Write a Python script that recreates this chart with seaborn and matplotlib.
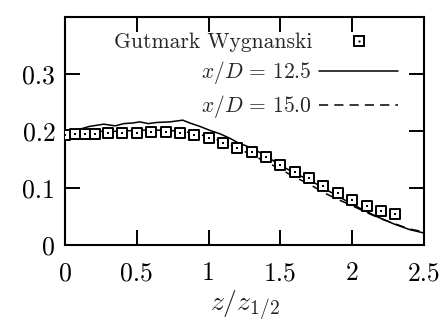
import numpy as np
import pandas as pd
import matplotlib
matplotlib.use("Agg")
import matplotlib.pyplot as plt
import seaborn as sns
from matplotlib.lines import Line2D
from matplotlib.legend_handler import HandlerTuple

# ---- data ----
gw_x = [0.0, 0.07, 0.14, 0.21, 0.3, 0.4, 0.5, 0.6, 0.7, 0.8, 0.9, 1.0, 1.1, 1.2,
        1.3, 1.4, 1.5, 1.6, 1.7, 1.8, 1.9, 2.0, 2.1, 2.2, 2.3]
gw_y = [0.193, 0.195, 0.195, 0.195, 0.196, 0.196, 0.197, 0.198, 0.198, 0.196, 0.193,
        0.187, 0.179, 0.171, 0.164, 0.154, 0.140, 0.128, 0.117, 0.104, 0.092,
        0.079, 0.068, 0.060, 0.054]

s125_x = [0.0, 0.05, 0.1, 0.17, 0.27, 0.35, 0.41, 0.47, 0.52, 0.58, 0.64, 0.73,
          0.82, 0.87, 0.94, 1.01, 1.08, 1.15, 1.2, 1.27, 1.33, 1.4, 1.5, 1.6,
          1.71, 1.82, 1.94, 2.05, 2.17, 2.29, 2.4, 2.5]
s125_y = [0.195, 0.199, 0.203, 0.208, 0.212, 0.209, 0.213, 0.214, 0.216, 0.213,
          0.215, 0.216, 0.219, 0.214, 0.208, 0.201, 0.195, 0.187, 0.180, 0.173,
          0.166, 0.156, 0.140, 0.126, 0.113, 0.097, 0.080, 0.065, 0.050, 0.037,
          0.027, 0.021]

s150_x = [0.0, 0.1, 0.2, 0.3, 0.4, 0.5, 0.6, 0.7, 0.8, 0.9, 1.0, 1.1, 1.2, 1.3,
          1.4, 1.5, 1.6, 1.7, 1.8, 1.9, 2.0, 2.1, 2.2, 2.3, 2.4, 2.5]
s150_y = [0.196, 0.199, 0.200, 0.199, 0.200, 0.201, 0.202, 0.201, 0.200, 0.196,
          0.190, 0.181, 0.170, 0.158, 0.146, 0.133, 0.119, 0.107, 0.092, 0.080,
          0.069, 0.057, 0.046, 0.037, 0.028, 0.023]

labels = ["Gutmark Wygnanski", r"$x/D\,=\,12.5$", r"$x/D\,=\,15.0$"]
xticks = [0, 0.5, 1, 1.5, 2, 2.5]
xticklabels = ["0", "0.5", "1", "1.5", "2", "2.5"]
yticks = [0, 0.1, 0.2, 0.3]
yticklabels = ["0", "0.1", "0.2", "0.3"]
xlabel = r"$z/z_{1/2}$"

# ---- style ----
sns.set_style("ticks")
plt.rcParams["font.family"] = ["cmr10", "DejaVu Serif"]
plt.rcParams["mathtext.fontset"] = "cm"
plt.rcParams["axes.formatter.use_mathtext"] = True
plt.rcParams["axes.unicode_minus"] = False

fig = plt.figure(figsize=(4.47, 3.27), dpi=100)
ax = fig.add_axes([65 / 447, 1 - 245 / 327, (424 - 65) / 447, (245 - 17) / 327])

df_gw = pd.DataFrame({"x": gw_x, "y": gw_y})
df_125 = pd.DataFrame({"x": s125_x, "y": s125_y})
df_150 = pd.DataFrame({"x": s150_x, "y": s150_y})

sns.lineplot(data=df_125, x="x", y="y", ax=ax, color="black", lw=1.1,
             sort=False, estimator=None, legend=False)
sns.lineplot(data=df_150, x="x", y="y", ax=ax, color="black", lw=1.1,
             sort=False, estimator=None, legend=False, dashes=False)
ax.lines[-1].set_dashes((6, 4))
sns.scatterplot(data=df_gw, x="x", y="y", ax=ax, marker="s", s=46,
                facecolor="white", edgecolor="black", linewidth=1.4,
                legend=False, zorder=3)
sns.scatterplot(data=df_gw, x="x", y="y", ax=ax, marker="s", s=2,
                color="black", linewidth=0, legend=False, zorder=4)

ax.set_xlim(0, 2.5)
ax.set_ylim(0, 0.4)
ax.set_xticks(xticks)
ax.set_xticklabels(xticklabels)
ax.set_yticks(yticks)
ax.set_yticklabels(yticklabels)
ax.tick_params(direction="in", length=11, width=1.4, top=True, right=True,
               labelsize=18.5, colors="black")
ax.tick_params(axis="x", pad=12)
ax.tick_params(axis="y", pad=7)
for sp in ax.spines.values():
    sp.set_linewidth(1.5)
    sp.set_color("black")
ax.set_xlabel(xlabel, fontsize=20, labelpad=2)
ax.set_ylabel("")

h_sq = Line2D([], [], ls="none", marker="s", ms=6.8, mfc="white", mec="black", mew=1.4)
h_dot = Line2D([], [], ls="none", marker="s", ms=1.4, mfc="black", mec="black", mew=0)
h1 = Line2D([], [], color="black", lw=1.1)
h2 = Line2D([], [], color="black", lw=1.1, dashes=(6, 4))
leg = ax.legend([(h_sq, h_dot), h1, h2], labels,
                handler_map={tuple: HandlerTuple(ndivide=1)},
                loc="upper right", bbox_to_anchor=((398 - 65) / 359, 0.93),
                frameon=False, markerfirst=False, fontsize=15.5, numpoints=1,
                handlelength=3.65, handletextpad=0.35, labelspacing=0.32,
                borderpad=0, borderaxespad=0)

fig.savefig("out.png", dpi=100)
